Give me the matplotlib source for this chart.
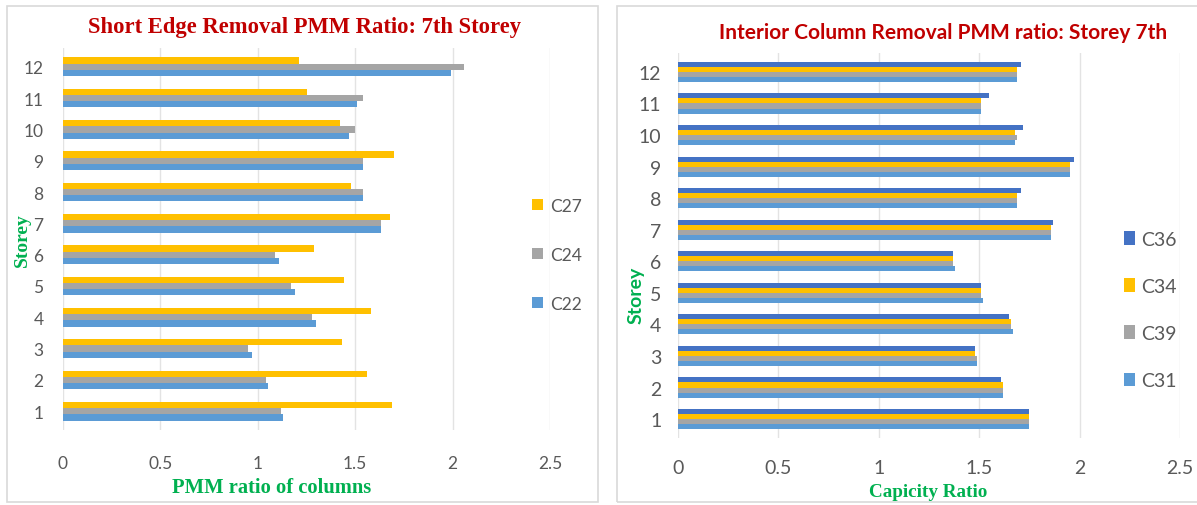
import numpy as np
import matplotlib.pyplot as plt
from matplotlib.patches import Rectangle

# storeys
storeys = np.arange(1, 13)

# left chart: short edge removal (values storey 1..12)
c22 = [1.13, 1.05, 0.97, 1.30, 1.19, 1.11, 1.63, 1.54, 1.54, 1.47, 1.51, 1.99]
c24 = [1.12, 1.04, 0.95, 1.28, 1.17, 1.09, 1.63, 1.54, 1.54, 1.50, 1.54, 2.06]
c27 = [1.69, 1.56, 1.43, 1.58, 1.44, 1.29, 1.68, 1.48, 1.70, 1.42, 1.25, 1.21]

# right chart: interior column removal
c31 = [1.75, 1.62, 1.49, 1.67, 1.52, 1.38, 1.86, 1.69, 1.95, 1.68, 1.51, 1.69]
c39 = [1.75, 1.62, 1.49, 1.66, 1.51, 1.37, 1.86, 1.69, 1.95, 1.69, 1.51, 1.69]
c34 = [1.75, 1.62, 1.48, 1.66, 1.51, 1.37, 1.86, 1.69, 1.95, 1.68, 1.51, 1.69]
c36 = [1.75, 1.61, 1.48, 1.65, 1.51, 1.37, 1.87, 1.71, 1.97, 1.72, 1.55, 1.71]

xticks = [0, 0.5, 1, 1.5, 2, 2.5]
xticklabels = ['0', '0.5', '1', '1.5', '2', '2.5']

blue = '#5B9BD5'
gray = '#A5A5A5'
yellow = '#FFC000'
dblue = '#4472C4'
red = '#C00000'
green = '#00B050'
tick_gray = '#595959'

W, H = 1197, 506
fig = plt.figure(figsize=(W / 100, H / 100), dpi=100)

# panel borders
for x0, x1 in [(7, 598), (617, 1205)]:
    fig.patches.append(Rectangle((x0 / W, 1 - 503 / H), (x1 - x0) / W, (503 - 7) / H,
                                 transform=fig.transFigure, fill=False,
                                 edgecolor='#D9D9D9', linewidth=1.2))


def style_axes(ax, tick_size):
    ax.set_xlim(0, 2.5)
    ax.set_ylim(0.4, 12.6)
    ax.set_xticks(xticks)
    ax.set_xticklabels(xticklabels)
    ax.set_yticks(storeys)
    for s in ax.spines.values():
        s.set_visible(False)
    ax.grid(axis='x', color='#E3E3E3', linewidth=1)
    ax.set_axisbelow(True)
    ax.tick_params(length=0, colors=tick_gray, labelsize=tick_size, pad=12)
    for lab in ax.get_xticklabels() + ax.get_yticklabels():
        lab.set_fontfamily('Lato')


# ---- left chart ----
ax1 = fig.add_axes([63 / W, 1 - 431 / H, 487 / W, 382 / H])
h1 = 0.2
ax1.barh(storeys - h1, c22, height=h1, color=blue, label='C22')
ax1.barh(storeys, c24, height=h1, color=gray, label='C24')
ax1.barh(storeys + h1, c27, height=h1, color=yellow, label='C27')
style_axes(ax1, 12.5)
ax1.tick_params(axis='y', pad=14)
ax1.tick_params(axis='x', pad=18)
fig.text(305 / W, 1 - 28 / H, 'Short Edge Removal PMM Ratio: 7th Storey',
         ha='center', va='center', color=red, fontsize=16.3, fontweight='bold',
         family='Liberation Serif')
fig.text(272 / W, 1 - 488 / H, 'PMM ratio of columns', ha='center', va='center',
         color=green, fontsize=14.8, fontweight='bold', family='Liberation Serif')
fig.text(22 / W, 1 - 240 / H, 'Storey', ha='center', va='center', rotation=90,
         color=green, fontsize=14, fontweight='bold', family='Liberation Serif')
hd, lb = ax1.get_legend_handles_labels()
fig.legend(hd[::-1], lb[::-1], loc='center', bbox_to_anchor=(557 / W, 1 - 256 / H),
           frameon=False, labelcolor=tick_gray, handlelength=0.6,
           handleheight=0.6, handletextpad=0.4, labelspacing=1.9,
           prop={'family': 'Lato', 'size': 12.5})

# ---- right chart ----
ax2 = fig.add_axes([678 / W, 1 - 439 / H, 502 / W, 385 / H])
h2 = 0.16
ax2.barh(storeys - 1.5 * h2, c31, height=h2, color=blue, label='C31')
ax2.barh(storeys - 0.5 * h2, c39, height=h2, color=gray, label='C39')
ax2.barh(storeys + 0.5 * h2, c34, height=h2, color=yellow, label='C34')
ax2.barh(storeys + 1.5 * h2, c36, height=h2, color=dblue, label='C36')
style_axes(ax2, 14)
ax2.tick_params(axis='x', pad=15)
fig.text(943 / W, 1 - 33 / H, 'Interior Column Removal PMM ratio: Storey 7th',
         ha='center', va='center', color=red, fontsize=15, fontweight='bold',
         family='Lato')
fig.text(928 / W, 1 - 493 / H, 'Capicity Ratio', ha='center', va='center',
         color=green, fontsize=13.8, fontweight='bold', family='Liberation Serif')
fig.text(636 / W, 1 - 295 / H, 'Storey', ha='center', va='center', rotation=90,
         color=green, fontsize=14, fontweight='bold', family='Lato')
hd, lb = ax2.get_legend_handles_labels()
fig.legend(hd[::-1], lb[::-1], loc='center', bbox_to_anchor=(1150 / W, 1 - 311 / H),
           frameon=False, labelcolor=tick_gray, handlelength=0.6,
           handleheight=0.7, handletextpad=0.3, labelspacing=1.55,
           prop={'family': 'Lato', 'size': 14})

fig.savefig('out.png', dpi=100)
